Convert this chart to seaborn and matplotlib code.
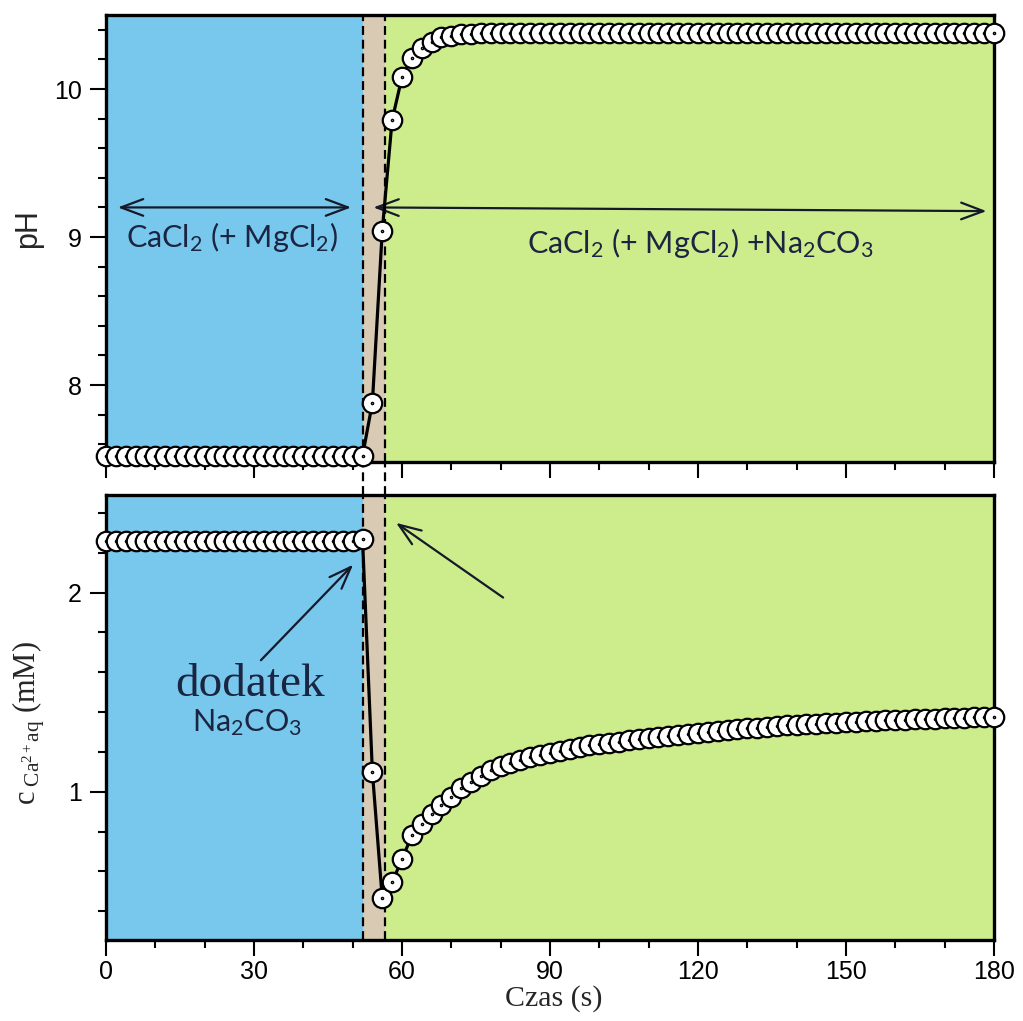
import numpy as np
import pandas as pd
import matplotlib
matplotlib.use("Agg")
import matplotlib.pyplot as plt
import seaborn as sns
from matplotlib.path import Path

# Sampling times (s), one reading every 2 s
time_s = np.arange(0, 181, 2)

# pH readings
ph_values = (
    [7.52] * 27
    + [7.88, 9.04, 9.79, 10.08, 10.21, 10.28, 10.32, 10.35, 10.36, 10.37, 10.37]
    + [10.38] * 53
)

# Dissolved calcium concentration (mM)
ca_values = (
    [2.26] * 26 + [2.27]
    + [1.10, 0.465, 0.545, 0.66, 0.78, 0.84, 0.89, 0.935, 0.975, 1.02,
       1.05, 1.08, 1.11, 1.13, 1.145, 1.16, 1.175, 1.185, 1.195, 1.205,
       1.215, 1.225, 1.232, 1.24, 1.245, 1.252, 1.258, 1.263, 1.268, 1.274,
       1.28, 1.285, 1.29, 1.295, 1.30, 1.305, 1.31, 1.314, 1.318, 1.322,
       1.326, 1.33, 1.333, 1.336, 1.339, 1.342, 1.345, 1.347, 1.35, 1.352,
       1.354, 1.356, 1.358, 1.36, 1.362, 1.364, 1.366, 1.367, 1.369, 1.37,
       1.372, 1.373, 1.375, 1.376]
)

# Phases of the experiment (s)
dosing_start = 52.0
dosing_end = 56.6
time_end = 180.0

BLUE = "#77C8EC"
TAN = "#D8CAB3"
GREEN = "#CDED8D"
INK = "#1b2440"

sns.set_theme(style="ticks")
plt.rcParams.update({
    "font.family": ["Liberation Sans", "DejaVu Sans"],
    "mathtext.fontset": "custom",
    "mathtext.rm": "Liberation Serif",
    "mathtext.it": "Liberation Serif:italic",
    "mathtext.sf": "Lato",
    "axes.linewidth": 2.4,
    "axes.edgecolor": "black",
    "xtick.color": "black",
    "ytick.color": "black",
    "xtick.major.size": 11.5,
    "ytick.major.size": 11.5,
    "xtick.minor.size": 5.8,
    "ytick.minor.size": 5.8,
    "xtick.major.width": 1.5,
    "ytick.major.width": 1.5,
    "xtick.minor.width": 1.5,
    "ytick.minor.width": 1.5,
})

df_ph = pd.DataFrame({"t": time_s, "pH": ph_values})
df_ca = pd.DataFrame({"t": time_s, "Ca": ca_values})

fig = plt.figure(figsize=(10.23, 10.21), dpi=100)
ax1 = fig.add_axes([0.1036, 0.5475, 0.868, 0.4378])
ax2 = fig.add_axes([0.1036, 0.0793, 0.868, 0.4359], sharex=ax1)

# open circle with a small centre dot
ring = Path.unit_circle()
dot = Path(ring.vertices * 0.07, ring.codes)
dot_marker = Path.make_compound_path(ring, dot)

marker_kw = dict(marker=dot_marker, markersize=14, markerfacecolor="white",
                 markeredgecolor="black", markeredgewidth=1.6)

for ax in (ax1, ax2):
    ax.axvspan(0, dosing_start, color=BLUE, lw=0, zorder=0)
    ax.axvspan(dosing_start, dosing_end, color=TAN, lw=0, zorder=0)
    ax.axvspan(dosing_end, time_end, color=GREEN, lw=0, zorder=0)
    for xv in (dosing_start, dosing_end):
        ax.axvline(xv, color="black", lw=1.6, dashes=(4, 2.2), zorder=1)
    ax.set_xlim(0, time_end)
    ax.set_xticks(np.arange(0, 181, 30))
    ax.set_xticks(np.arange(0, 181, 10), minor=True)
    ax.tick_params(axis="both", which="both", direction="out", labelsize=18)
    ax.tick_params(axis="y", which="major", pad=6)
    ax.tick_params(axis="x", which="major", pad=3)
    for sp in ax.spines.values():
        sp.set_zorder(3)

# dashed guides continue through the gap between the panels
gap = (0.5475 - 0.5152) / 0.4378
for xv in (dosing_start, dosing_end):
    ax1.axvline(xv, ymin=-gap, ymax=0, color="black", lw=1.6, dashes=(4, 2.2),
                clip_on=False, zorder=1)

# ---- pH panel ----
sns.lineplot(data=df_ph, x="t", y="pH", ax=ax1, color="black", lw=2.3,
             clip_on=False, zorder=5, **marker_kw)
ax1.set_ylim(7.48, 10.5)
ax1.set_yticks([8, 9, 10])
ax1.set_yticks(np.arange(7.6, 10.5, 0.2), minor=True)
ax1.tick_params(axis="x", labelbottom=False)
ax1.set_xlabel("")
ax1.set_ylabel("pH", fontsize=22, family="Liberation Sans")
ax1.yaxis.set_label_coords(-0.071, 0.523)

arrow_kw = dict(arrowstyle="<->,head_length=0.8,head_width=0.3", lw=1.6,
                color="#15192a", mutation_scale=20, shrinkA=0, shrinkB=0)
ax1.annotate("", xy=(49.7, 9.2), xytext=(2.4, 9.2), arrowprops=arrow_kw)
ax1.annotate("", xy=(178.5, 9.175), xytext=(54.2, 9.2), arrowprops=arrow_kw)
ax1.text(25.6, 8.93, r"CaCl$_\mathsf{2}$ (+ MgCl$_\mathsf{2}$)", family="Lato",
         fontsize=22, color=INK, ha="center", va="baseline")
ax1.text(120.5, 8.89, r"CaCl$_\mathsf{2}$ (+ MgCl$_\mathsf{2}$) +Na$_\mathsf{2}$CO$_\mathsf{3}$",
         family="Lato", fontsize=22, color=INK, ha="center", va="baseline")

# ---- calcium panel ----
sns.lineplot(data=df_ca, x="t", y="Ca", ax=ax2, color="black", lw=2.3,
             clip_on=False, zorder=5, **marker_kw)
ax2.set_ylim(0.255, 2.49)
ax2.set_yticks([1, 2])
ax2.set_yticks(np.arange(0.4, 2.45, 0.2), minor=True)
ax2.set_xticklabels(["0", "30", "60", "90", "120", "150", "180"])
ax2.set_xlabel("Czas (s)", fontsize=21.5, family="Liberation Serif")
ax2.xaxis.set_label_coords(0.504, -0.102)
ax2.set_ylabel(r"c$_{\ \mathrm{Ca^{2+}aq}}$ (mM)", fontsize=22, family="Liberation Serif")
ax2.yaxis.set_label_coords(-0.066, 0.488)

head_kw = dict(arrowstyle="->,head_length=0.8,head_width=0.3", lw=1.6,
               color="#15192a", mutation_scale=20, shrinkA=0, shrinkB=0)
ax2.annotate("", xy=(50.1, 2.14), xytext=(31.4, 1.66), arrowprops=head_kw)
ax2.annotate("", xy=(58.8, 2.35), xytext=(80.5, 1.975), arrowprops=head_kw)
ax2.text(29.3, 1.48, "dodatek", family="Liberation Serif", fontsize=34,
         color=INK, ha="center", va="baseline")
ax2.text(28.5, 1.30, r"Na$_\mathsf{2}$CO$_\mathsf{3}$", family="Lato",
         fontsize=22, color=INK, ha="center", va="baseline")

fig.savefig("out.png", dpi=100, facecolor="white")
